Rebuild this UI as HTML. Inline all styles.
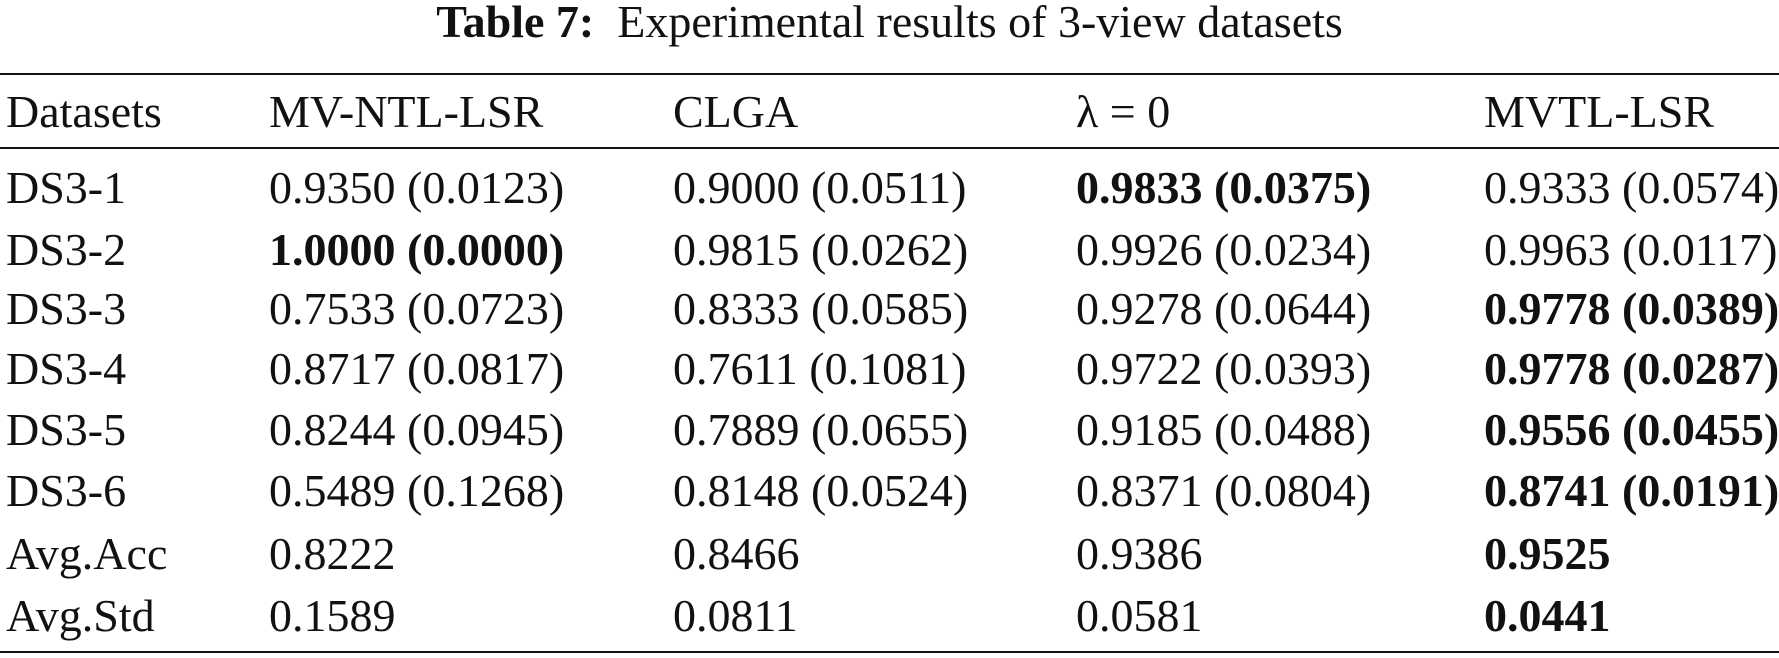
<!DOCTYPE html>
<html><head><meta charset="utf-8"><style>
body{margin:0;width:1779px;height:658px;background:#fff;position:relative;overflow:hidden;font-family:"Liberation Serif",serif;color:#111}
.t{position:absolute;white-space:nowrap;font-size:46px;line-height:1;transform:translateY(-50%)}
.rule{position:absolute;left:0;width:1779px;height:2px;background:#111}
b{font-weight:bold}
</style></head><body>
<div class="t" style="left:0;width:1779px;text-align:center;top:22px;font-size:46px"><b>Table 7:</b>&nbsp; Experimental results of 3-view datasets</div>
<div class="rule" style="top:73px"></div>
<div class="rule" style="top:147px"></div>
<div class="rule" style="top:651px"></div>
<div id="tbl"></div>
<script>
const cols=[6,269,673,1076,1484];
const rowsY=[112,188,250,309,369,430,491,554,616];
const header=["Datasets","MV-NTL-LSR","CLGA","λ = 0","MVTL-LSR"];
const rows=[
["DS3-1","0.9350 (0.0123)","0.9000 (0.0511)","*0.9833 (0.0375)","0.9333 (0.0574)"],
["DS3-2","*1.0000 (0.0000)","0.9815 (0.0262)","0.9926 (0.0234)","0.9963 (0.0117)"],
["DS3-3","0.7533 (0.0723)","0.8333 (0.0585)","0.9278 (0.0644)","*0.9778 (0.0389)"],
["DS3-4","0.8717 (0.0817)","0.7611 (0.1081)","0.9722 (0.0393)","*0.9778 (0.0287)"],
["DS3-5","0.8244 (0.0945)","0.7889 (0.0655)","0.9185 (0.0488)","*0.9556 (0.0455)"],
["DS3-6","0.5489 (0.1268)","0.8148 (0.0524)","0.8371 (0.0804)","*0.8741 (0.0191)"],
["Avg.Acc","0.8222","0.8466","0.9386","*0.9525"],
["Avg.Std","0.1589","0.0811","0.0581","*0.0441"]];
const tbl=document.getElementById('tbl');
[header].concat(rows).forEach((r,ri)=>{
  r.forEach((c,ci)=>{
    const d=document.createElement('div');
    d.className='t';
    
    
    d.style.left=cols[ci]+'px';d.style.top=rowsY[ri]+'px';
    if(c[0]==='*'){d.style.fontWeight='bold';c=c.slice(1);}
    d.textContent=c;
    tbl.appendChild(d);
  });
});
</script>
</body></html>
